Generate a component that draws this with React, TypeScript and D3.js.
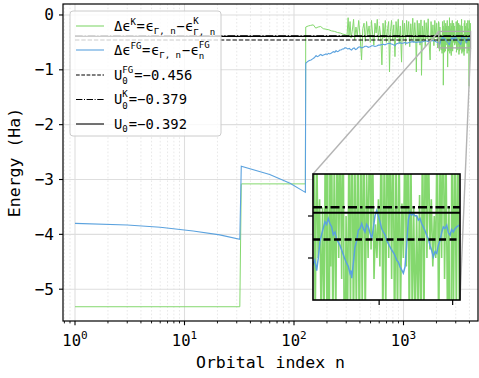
import React from 'react';
import * as d3 from 'd3';

// ---------------- data ----------------
const greenSteps: [number, number][] = [[1, -5.32], [32, -5.32], [33, -3.08], [127, -3.08]];
const greenEarly: [number, number][] = [
  [128, -0.22], [135, -0.2], [142, -0.19], [150, -0.18], [158, -0.24], [166, -0.22], [175, -0.21],
  [185, -0.25], [196, -0.26], [208, -0.27], [220, -0.29], [235, -0.3], [250, -0.32], [265, -0.33],
  [280, -0.35], [295, -0.36], [305, -0.38],
];
const greenNoise: [number, number][] = [
  [312, -0.05], [318, -0.38], [325, -0.12], [332, -0.42], [340, -0.3], [350, -0.08], [358, -0.45],
  [368, -0.22], [378, -0.38], [390, -0.1], [402, -0.4], [414, -0.82], [425, -0.25], [436, -0.15],
  [448, -0.48], [460, -0.12], [472, -0.36], [485, -0.2], [498, -0.5], [510, -0.1], [523, -0.36],
  [536, -0.55], [549, -0.15], [562, -0.33], [576, -0.08], [590, -0.45], [604, -0.2], [620, -0.4],
  [635, -0.91], [650, -0.15], [666, -0.42], [682, -0.1], [698, -0.5], [715, -0.25], [732, -0.12],
  [745, -1.04], [760, -0.3], [778, -0.1], [796, -0.46], [815, -0.18], [836, -0.76], [855, -0.12],
  [875, -0.42], [895, -0.08], [915, -0.52], [935, -0.2], [960, -0.86], [980, -0.1], [1000, -0.44],
  [1022, -0.15], [1045, -0.55], [1068, -0.1], [1090, -0.4], [1115, -0.12], [1140, -0.58],
  [1165, -0.16], [1190, -0.45], [1215, -0.06], [1240, -0.5], [1268, -0.14], [1295, -0.42],
  [1310, -1.04], [1335, -0.1], [1360, -0.48], [1388, -0.15], [1415, -0.55], [1445, -0.09],
  [1460, -1.1], [1490, -0.2], [1520, -0.45], [1550, -0.1], [1580, -0.58], [1610, -0.14],
  [1645, -0.44], [1680, -0.07], [1715, -0.52], [1750, -0.82], [1785, -0.12], [1820, -0.46],
  [1858, -0.18], [1895, -0.56], [1932, -0.1], [1970, -0.42], [2010, -0.15], [2050, -0.6],
  [2090, -0.12],
];
const greenInsetPart: [number, number][] = [
  [2110, -0.15], [2130, -0.66], [2150, -0.22], [2170, -0.5], [2190, -0.36], [2210, -0.64],
  [2230, -0.38], [2250, -0.7], [2270, -0.12], [2290, -0.65], [2300, -0.2], [2310, -1.28],
  [2330, -0.3], [2340, -0.52], [2350, -0.1], [2370, -0.68], [2390, -0.25], [2410, -0.66],
  [2430, -0.15], [2450, -0.5], [2470, -0.2], [2490, -0.55], [2510, -0.1], [2530, -0.95],
  [2550, -0.4], [2570, -0.66], [2590, -0.2], [2610, -0.64], [2630, -0.05], [2650, -0.7],
  [2670, -0.25], [2690, -0.65], [2710, -0.15], [2730, -0.74], [2750, -0.2], [2770, -0.63],
  [2790, -0.1], [2810, -0.66], [2830, -0.3], [2850, -0.5], [2870, -0.15], [2890, -0.48],
  [2910, -0.2], [2930, -0.55], [2950, -0.42], [2970, -0.5], [2990, -0.36], [3010, -0.52],
  [3030, -0.12], [3050, -0.68], [3070, -0.22], [3090, -0.64], [3110, -0.1], [3130, -0.5],
  [3150, -0.2], [3170, -0.55], [3190, -0.15], [3210, -0.72], [3230, -0.25], [3250, -0.66],
  [3270, -0.18], [3290, -0.63], [3310, -0.37], [3330, -0.5], [3350, -0.2], [3370, -0.52],
  [3390, -0.08], [3410, -0.7], [3430, -0.2], [3450, -0.65], [3470, -0.38], [3490, -0.67],
  [3510, -0.4], [3530, -0.63], [3550, -0.35], [3570, -0.74], [3590, -0.15], [3610, -0.66],
  [3630, -0.1], [3650, -0.5], [3670, -0.2], [3690, -0.48], [3710, -0.36], [3730, -0.52],
  [3750, -0.4], [3770, -0.5], [3790, -0.15], [3810, -0.7], [3830, -0.22], [3850, -0.5],
  [3870, -0.1], [3890, -0.55], [3910, -0.25], [3930, -0.65], [3950, -0.38], [3970, -1.3],
  [3990, -0.1], [4010, -0.66], [4030, -0.2], [4050, -0.64], [4070, -0.15], [4090, -0.6],
];
const blueHead: [number, number][] = [
  [1, -3.8], [3, -3.83], [6, -3.87], [12, -3.94], [21, -4.01], [32, -4.09],
  [33, -2.76], [60, -2.91], [92, -3.07], [127, -3.235],
];
const blueTail: [number, number][] = [
  [128, -0.88], [133, -0.85], [138, -0.83], [143, -0.82], [148, -0.8], [153, -0.78], [159, -0.74],
  [163, -0.76], [168, -0.75], [172, -0.73], [176, -0.72], [181, -0.74], [186, -0.73], [191, -0.72],
  [196, -0.71], [201, -0.72], [207, -0.7], [212, -0.71], [218, -0.7], [224, -0.68], [230, -0.67],
  [236, -0.68], [242, -0.65], [248, -0.67], [255, -0.66], [262, -0.64], [269, -0.64], [276, -0.62],
  [284, -0.62], [291, -0.6], [298, -0.6], [309, -0.62], [320, -0.61], [328, -0.63], [336, -0.64],
  [345, -0.61], [355, -0.6], [364, -0.63], [374, -0.62], [387, -0.59], [400, -0.58], [415, -0.6],
  [430, -0.59], [445, -0.57], [460, -0.57], [477, -0.59], [494, -0.58], [512, -0.56], [530, -0.56],
  [549, -0.575], [569, -0.565], [590, -0.55], [610, -0.55], [632, -0.54], [654, -0.535],
  [677, -0.545], [700, -0.53], [726, -0.52], [753, -0.517], [776, -0.53], [800, -0.54],
  [818, -0.55], [836, -0.56], [858, -0.53], [880, -0.52], [905, -0.51], [929, -0.505],
  [965, -0.52], [1000, -0.51], [1035, -0.5], [1069, -0.517], [1105, -0.505], [1140, -0.5],
  [1185, -0.49], [1228, -0.487], [1275, -0.495], [1320, -0.5], [1368, -0.49], [1415, -0.5],
  [1468, -0.49], [1520, -0.485], [1575, -0.475], [1629, -0.474], [1690, -0.485], [1750, -0.48],
  [1810, -0.47], [1871, -0.468], [1925, -0.475], [1980, -0.49], [2050, -0.5], [2100, -0.515],
  [2125, -0.505], [2150, -0.53], [2172, -0.5], [2195, -0.46], [2230, -0.435], [2263, -0.414],
  [2285, -0.42], [2308, -0.406], [2330, -0.418], [2354, -0.426], [2376, -0.445], [2399, -0.438],
  [2420, -0.455], [2444, -0.462], [2467, -0.47], [2490, -0.481], [2525, -0.498], [2558, -0.513],
  [2580, -0.52], [2603, -0.536], [2615, -0.53], [2627, -0.548], [2648, -0.513], [2671, -0.474],
  [2693, -0.46], [2716, -0.434], [2740, -0.43], [2763, -0.418], [2785, -0.43], [2807, -0.438],
  [2830, -0.42], [2852, -0.426], [2875, -0.44], [2899, -0.454], [2920, -0.43], [2944, -0.399],
  [2967, -0.387], [2990, -0.4], [3012, -0.414], [3034, -0.43], [3056, -0.438], [3080, -0.445],
  [3103, -0.458], [3137, -0.47], [3171, -0.481], [3205, -0.49], [3239, -0.505], [3262, -0.51],
  [3284, -0.521], [3306, -0.528], [3329, -0.536], [3352, -0.521], [3375, -0.466], [3397, -0.41],
  [3420, -0.391], [3442, -0.398], [3465, -0.395], [3488, -0.4], [3511, -0.399], [3533, -0.41],
  [3556, -0.406], [3578, -0.418], [3601, -0.426], [3624, -0.435], [3647, -0.446], [3670, -0.455],
  [3692, -0.47], [3715, -0.482], [3737, -0.497], [3760, -0.485], [3783, -0.489], [3805, -0.47],
  [3828, -0.458], [3850, -0.44], [3873, -0.426], [3896, -0.43], [3919, -0.422], [3942, -0.44],
  [3964, -0.446], [3986, -0.432], [4009, -0.438], [4032, -0.43], [4055, -0.426], [4090, -0.422],
];
const uValues = [-0.456, -0.379, -0.392];
const uLabelsNum = ['−0.456', '−0.379', '−0.392'];
const nRange = [1, 4090];
const yTicks = [0, -1, -2, -3, -4, -5];
const xTickExps = [0, 1, 2, 3];
const insetXDomain = [2100, 4100];
const insetYDomain = [-0.6, -0.3];
const insetXTicks = [3000, 4000];
const insetYTicks = [-0.4, -0.5];

// ---------------- layout ----------------
const W = 479, H = 378;
const L = 63, R = 478, T = 4, B = 321;
const IL = 313, IR = 460, IT = 174, IB = 300;
const FONT = "'DejaVu Sans Mono', monospace";
const GREEN = '#84d86e';
const BLUE = '#5ba2de';

const x = d3.scaleLog().domain([Math.pow(10, (L - 75) / 109.5), Math.pow(10, (R - 75) / 109.5)]).range([L, R]);
const y = d3.scaleLinear().domain([-5.58, 0.2]).range([B, T]);
const xi = d3.scaleLinear().domain(insetXDomain).range([IL, IR]);
const yi = d3.scaleLinear().domain(insetYDomain).range([IB, IT]);

const greenAll = [...greenSteps, ...greenEarly, ...greenNoise, ...greenInsetPart];
const blueAll = [...blueHead, ...blueTail];

const lineMain = d3.line<[number, number]>().x(d => x(d[0])).y(d => y(d[1]));
const lineInset = d3.line<[number, number]>().x(d => xi(d[0])).y(d => yi(d[1]));

type Seg = { t: string; k: 'n' | 'sup' | 'sub' | 'ss'; t2?: string; pad?: number };

function MathText({ x0, yb, segs, fs }: { x0: number; yb: number; segs: Seg[]; fs: number }) {
  const cw = 0.602 * fs;
  const sfs = fs * 0.66;
  const sw = 0.602 * sfs;
  let cx = x0;
  const out: React.ReactNode[] = [];
  segs.forEach((s, i) => {
    if (s.k === 'n') {
      out.push(<text key={i} x={cx} y={yb} fontSize={fs}>{s.t}</text>);
      cx += s.t.length * cw;
    } else if (s.k === 'sup') {
      out.push(<text key={i} x={cx} y={yb - fs * 0.42} fontSize={sfs}>{s.t}</text>);
      cx += s.t.length * sw;
    } else if (s.k === 'sub') {
      out.push(<text key={i} x={cx} y={yb + fs * 0.24} fontSize={sfs}>{s.t}</text>);
      cx += s.t.length * sw;
    } else {
      out.push(<text key={i + 'a'} x={cx} y={yb - fs * 0.5} fontSize={sfs}>{s.t}</text>);
      out.push(<text key={i + 'b'} x={cx} y={yb + fs * 0.32} fontSize={sfs}>{s.t2}</text>);
      cx += Math.max(s.t.length, (s.t2 || '').length) * sw;
    }
    cx += s.pad || 0;
  });
  return <g style={{ whiteSpace: 'pre' }}>{out}</g>;
}

export default function App() {
  const minorTicks: number[] = [];
  for (let k = -1; k <= 3; k++) for (let m = 2; m <= 9; m++) {
    const v = m * Math.pow(10, k);
    if (v >= x.domain()[0] && v <= x.domain()[1]) minorTicks.push(v);
  }
  const majorTicks = xTickExps.map(e => Math.pow(10, e));
  const rectX0 = x(insetXDomain[0]), rectX1 = x(insetXDomain[1]);
  const rectY0 = y(insetYDomain[1]), rectY1 = y(insetYDomain[0]);

  const mainDash = ['4.4,1.9', '7.7,1.9,1.2,1.9', ''];
  const insetDash = ['7,3.5', '9,3,2.5,3', ''];
  const legendDash = ['3.7,1.6', '6.4,1.6,1,1.6', ''];

  const legFs = 13.8;
  const legRows = [26, 50, 75, 99.5, 124];
  const legendLabels: Seg[][] = [
    [{ t: 'Δϵ', k: 'n' }, { t: 'K', k: 'sup', pad: 0.5 }, { t: '=', k: 'n', pad: 0.5 }, { t: 'ϵ', k: 'n' },
     { t: 'Γ, n', k: 'sub', pad: 0.5 }, { t: '−', k: 'n', pad: 0.5 }, { t: 'ϵ', k: 'n' }, { t: 'K', k: 'ss', t2: 'Γ, n' }],
    [{ t: 'Δϵ', k: 'n' }, { t: 'FG', k: 'sup', pad: 0.5 }, { t: '=', k: 'n', pad: 0.5 }, { t: 'ϵ', k: 'n' },
     { t: 'Γ, n', k: 'sub', pad: 0.5 }, { t: '−', k: 'n', pad: 0.5 }, { t: 'ϵ', k: 'n' }, { t: 'FG', k: 'ss', t2: 'n' }],
    [{ t: 'U', k: 'n' }, { t: 'FG', k: 'ss', t2: '0', pad: 1 }, { t: '=', k: 'n' }, { t: uLabelsNum[0], k: 'n' }],
    [{ t: 'U', k: 'n' }, { t: 'K', k: 'ss', t2: '0', pad: 1 }, { t: '=', k: 'n' }, { t: uLabelsNum[1], k: 'n' }],
    [{ t: 'U', k: 'n' }, { t: '0', k: 'sub', pad: 1 }, { t: '=', k: 'n' }, { t: uLabelsNum[2], k: 'n' }],
  ];

  return (
    <svg width={W} height={H} viewBox={`0 0 ${W} ${H}`} style={{ position: 'absolute', left: 0, top: 0, background: '#fff' }}
      fontFamily={FONT}>
      <defs>
        <clipPath id="mainClip"><rect x={L} y={T} width={R - L} height={B - T} /></clipPath>
        <clipPath id="insetClip"><rect x={IL} y={IT} width={IR - IL} height={IB - IT} /></clipPath>
      </defs>
      <rect x={0} y={0} width={W} height={H} fill="#fff" />
      {/* grid */}
      <g clipPath="url(#mainClip)">
        {minorTicks.map(v => (
          <line key={'mg' + v} x1={x(v)} x2={x(v)} y1={T} y2={B} stroke="#e2e2e2" strokeWidth={0.8} strokeDasharray="1.6,2" />
        ))}
        {majorTicks.map(v => (
          <line key={'Mg' + v} x1={x(v)} x2={x(v)} y1={T} y2={B} stroke="#dedede" strokeWidth={1.1} />
        ))}
        {yTicks.map(v => (
          <line key={'yg' + v} x1={L} x2={R} y1={y(v)} y2={y(v)} stroke="#dedede" strokeWidth={1.1} />
        ))}
        <path d={lineMain(greenAll) || ''} fill="none" stroke={GREEN} strokeWidth={1} />
        <path d={lineMain(blueAll) || ''} fill="none" stroke={BLUE} strokeWidth={1.1} />
        {uValues.map((u, i) => (
          <line key={'u' + i} x1={x(nRange[0])} x2={x(nRange[1])} y1={y(u)} y2={y(u)} stroke="#000"
            strokeWidth={1.2} strokeDasharray={mainDash[i] || undefined} />
        ))}
        {/* inset indicator */}
        <rect x={rectX0} y={rectY0} width={rectX1 - rectX0} height={rectY1 - rectY0} fill="none" stroke="#a8a8a8" strokeWidth={1.3} />
        <line x1={rectX0} y1={rectY0} x2={IL} y2={IT} stroke="#b4b4b4" strokeWidth={1.4} />
        <line x1={rectX1} y1={rectY1} x2={IR} y2={IB} stroke="#b4b4b4" strokeWidth={1.4} />
      </g>

      {/* legend */}
      <g>
        <rect x={70} y={11} width={151} height={125} rx={3} fill="#fff" fillOpacity={0.8} stroke="#cccccc" strokeWidth={1} />
        {legRows.map((ry, i) => (
          <line key={'lh' + i} x1={76} x2={104} y1={ry} y2={ry}
            stroke={i === 0 ? GREEN : i === 1 ? BLUE : '#000'} strokeWidth={1.1}
            strokeDasharray={i >= 2 ? legendDash[i - 2] || undefined : undefined} />
        ))}
        {legendLabels.map((segs, i) => (
          <MathText key={'lt' + i} x0={114} yb={legRows[i] + 4.6} segs={segs} fs={legFs} />
        ))}
      </g>

      {/* main spines */}
      <rect x={L} y={T} width={R - L} height={B - T} fill="none" stroke="#000" strokeWidth={1.2} />
      {/* y ticks */}
      {yTicks.map(v => (
        <g key={'yt' + v}>
          <line x1={L - 4} x2={L} y1={y(v)} y2={y(v)} stroke="#000" strokeWidth={1.1} />
          <text x={L - 9} y={y(v) + 5.5} textAnchor="end" fontSize={16}>{v === 0 ? '0' : '−' + Math.abs(v)}</text>
        </g>
      ))}
      {/* x ticks */}
      {minorTicks.map(v => (
        <line key={'xm' + v} x1={x(v)} x2={x(v)} y1={B} y2={B + 2.4} stroke="#000" strokeWidth={0.9} />
      ))}
      {majorTicks.map((v, i) => (
        <g key={'xt' + v}>
          <line x1={x(v)} x2={x(v)} y1={B} y2={B + 4.2} stroke="#000" strokeWidth={1.1} />
          <text x={x(v)} y={346} textAnchor="middle" fontSize={15.5}>
            10<tspan dy={-7} fontSize={11}>{xTickExps[i]}</tspan>
          </text>
        </g>
      ))}
      <text x={(L + R) / 2} y={368} textAnchor="middle" fontSize={16.5}>Orbital index n</text>
      <text transform={`translate(20,${(T + B) / 2}) rotate(-90)`} textAnchor="middle" fontSize={16.5}>Energy (Ha)</text>

      {/* inset */}
      <rect x={IL} y={IT} width={IR - IL} height={IB - IT} fill="#fff" />
      <g clipPath="url(#insetClip)">
        <path d={lineInset(greenAll.filter(d => d[0] >= 2000)) || ''} fill="none" stroke={GREEN} strokeWidth={1.6} />
        <path d={lineInset(blueAll.filter(d => d[0] >= 2000)) || ''} fill="none" stroke={BLUE} strokeWidth={1.5} />
        {uValues.map((u, i) => (
          <line key={'iu' + i} x1={IL} x2={IR} y1={yi(u)} y2={yi(u)} stroke="#000"
            strokeWidth={i === 2 ? 2 : 2.4} strokeDasharray={insetDash[i] || undefined} />
        ))}
      </g>
      <rect x={IL} y={IT} width={IR - IL} height={IB - IT} fill="none" stroke="#000" strokeWidth={1.6} />
      {insetYTicks.map(v => (
        <line key={'iy' + v} x1={IL - 5} x2={IL} y1={yi(v)} y2={yi(v)} stroke="#000" strokeWidth={1.2} />
      ))}
      {insetXTicks.map(v => (
        <line key={'ix' + v} x1={xi(v)} x2={xi(v)} y1={IB} y2={IB + 5} stroke="#000" strokeWidth={1.2} />
      ))}
    </svg>
  );
}
